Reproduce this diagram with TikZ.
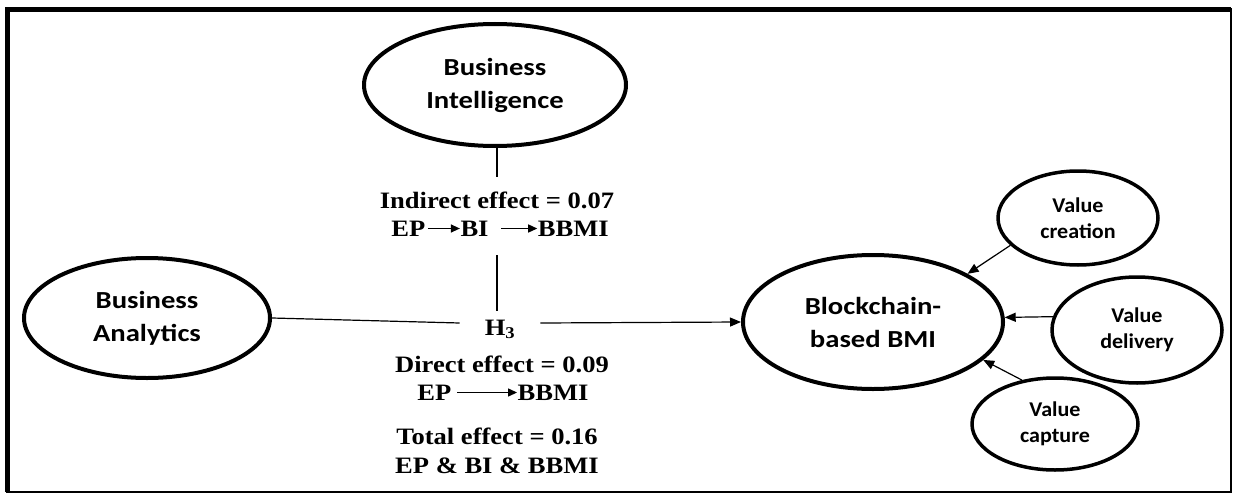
\documentclass[tikz,border=0pt]{standalone}
\usepackage{fontspec}
\setmainfont{Liberation Serif}[FakeStretch=1.13]
\newfontfamily\calbig{Carlito}[FakeStretch=1.17]
\newfontfamily\calsml{Carlito}[FakeStretch=1.05]
\usetikzlibrary{shapes.geometric,arrows.meta}
\newcommand\txtarrow[1]{\tikz[baseline=0pt,x=1pt,y=1pt]\draw[line width=1.3pt,-{Triangle[length=9pt,width=8pt]}](0,7.5)--(#1,7.5);}
\begin{document}
\begin{tikzpicture}[x=1pt,y=-1pt,
  big/.style={ellipse, draw, line width=4pt, inner sep=0pt, align=center, font=\calbig\bfseries\fontsize{24.5}{33}\selectfont},
  small/.style={ellipse, draw, line width=3.5pt, inner sep=0pt, align=center, font=\calsml\bfseries\fontsize{21}{26}\selectfont},
  eff/.style={anchor=base, inner sep=0pt, font=\bfseries\fontsize{23.5}{28}\selectfont},
  conn/.style={line width=1.2pt},
  arr/.style={line width=1.2pt, -{Triangle[length=11pt,width=9pt]}}]
\useasboundingbox (0,0) rectangle (1234,495);
\draw[line width=2.5pt] (7.5,9.5) rectangle (1231,492);
\draw[line width=4.5pt] (7.5,492) -- (7.5,9.5) -- (1231,9.5);

\node[big, minimum width=262pt, minimum height=122pt] (bi) at (495,85) {Business\\Intelligence};
\node[big, minimum width=246pt, minimum height=120pt] (ba) at (147,318) {Business\\Analytics};
\node[big, minimum width=260pt, minimum height=134pt] (bbmi) at (873,322) {Blockchain-\\based BMI};
\node[small, minimum width=160pt, minimum height=94pt] (vc) at (1078,218) {Value\\creation};
\node[small, minimum width=170pt, minimum height=106pt] (vd) at (1137,330) {Value\\delivery};
\node[small, minimum width=166pt, minimum height=92pt] (vcap) at (1055,424) {Value\\capture};

\node[eff] (ind) at (497,208) {Indirect effect = 0.07};
\node[eff] (ip) at (500,236) {EP\hspace{2pt}\txtarrow{32}BI\hspace{12pt}\txtarrow{36}BBMI};
\node[eff, text height=24pt, text depth=0pt, inner xsep=25pt, inner ysep=0pt] (h3) at (500,335) {H\textsubscript{3}};
\node[eff] (dir) at (502,372) {Direct effect = 0.09};
\node[eff] (dp) at (503,400) {EP\hspace{5pt}\txtarrow{60}BBMI};
\node[eff] (tot) at (497,444) {Total effect = 0.16};
\node[eff] (tp) at (497,473) {EP \& BI \& BBMI};

\coordinate (l1) at (497,177);
\coordinate (l2) at (497,255);
\draw[conn] (bi.south -| l1) -- (l1);
\draw[conn] (l2) -- (h3.north -| l2);
\draw[conn] (ba.east) -- (h3.west);
\draw[arr] (h3.east) -- (bbmi.west);
\draw[arr] (vc.202) -- (bbmi.27);
\draw[arr] (vd.171) -- (bbmi.2);
\draw[arr] (vcap.127) -- (bbmi.341);
\end{tikzpicture}
\end{document}
